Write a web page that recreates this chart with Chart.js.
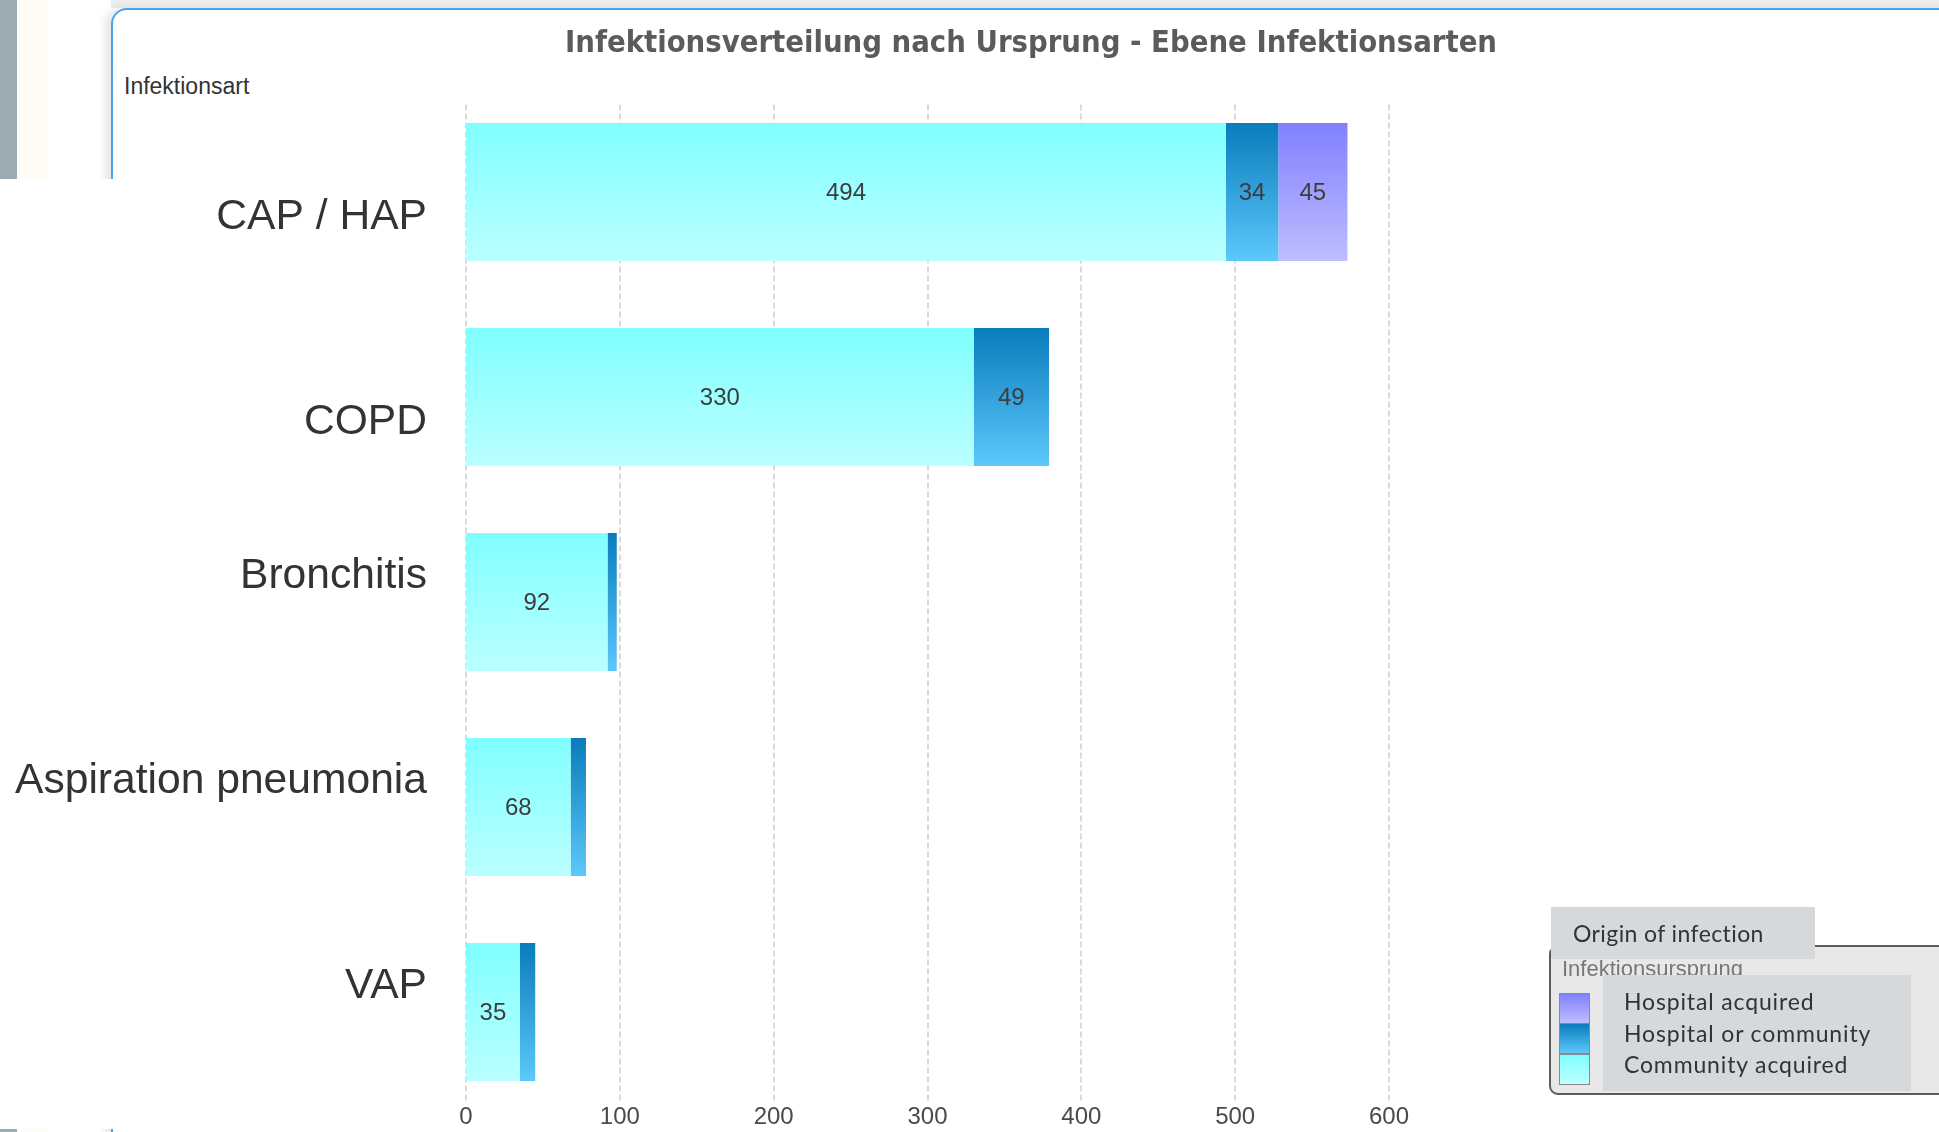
<!DOCTYPE html>
<html><head><meta charset="utf-8">
<script src="https://cdn.jsdelivr.net/npm/chart.js@4.4.1/dist/chart.umd.min.js"></script>
<style>
html,body{margin:0;padding:0;background:#fff;width:1939px;height:1132px;overflow:hidden;}
body{position:relative;}
.abs{position:absolute;}
#strip1{left:0;top:0;width:17px;height:179px;background:#9aabb4;}
#strip2{left:17px;top:0;width:31px;height:179px;background:#fffcf6;}
#bstrip1{left:0;top:1129px;width:17px;height:3px;background:#9aabb4;}
#bstrip2{left:17px;top:1129px;width:31px;height:3px;background:#fffcf6;}
#topband{left:111px;top:0;width:1828px;height:8px;background:#eeeeee;}
#frame{left:111px;top:8px;width:1900px;height:1300px;border-top:2px solid #4da3e8;border-left:2px solid #4da3e8;border-top-left-radius:16px;box-shadow:-6px 0 8px rgba(0,0,0,0.10);background:#fff;}
#cover{left:0;top:179px;width:300px;height:950px;background:#fff;}
#chartwrap{left:0;top:0;width:1939px;height:1132px;}
#subtitle{left:124px;top:74px;font:23px "Liberation Sans",Arial,sans-serif;color:#333;line-height:24px;white-space:nowrap;}
#lgframe{left:1549px;top:945px;width:420px;height:146px;border:2px solid #5c5c5c;border-radius:9px;background:#e8e8e8;}
#lgsub{left:1562px;top:958px;font:22px "Liberation Sans",Arial,sans-serif;color:#777;line-height:22px;white-space:nowrap;}
#lgtitle{left:1551px;top:907px;width:264px;height:52px;background:#d5d9dc;}
#lgtitle span{position:absolute;left:22px;top:11px;font:23px Lato,"Open Sans",sans-serif;color:#333;letter-spacing:0.4px;white-space:nowrap;line-height:30px;}
#lgitems{left:1603px;top:975px;width:308px;height:116px;background:#d5d9dc;}
.lgtxt{position:absolute;left:21px;font:23px Lato,"Open Sans",sans-serif;color:#333;letter-spacing:0.85px;line-height:31px;white-space:nowrap;}
.sw{position:absolute;left:1559px;width:29px;height:29px;border:1px solid #8a8a8a;}
</style>
</head><body>
<div class="abs" id="topband"></div>
<div class="abs" id="frame"></div>
<div class="abs" id="strip1"></div>
<div class="abs" id="strip2"></div>
<div class="abs" id="cover"></div>
<div class="abs" id="bstrip1"></div>
<div class="abs" id="bstrip2"></div>
<div class="abs" id="subtitle">Infektionsart</div>
<div class="abs" id="chartwrap"><canvas id="c" width="1939" height="1132"></canvas></div>
<div class="abs" id="lgframe"></div>
<div class="abs" id="lgsub">Infektionsursprung</div>
<div class="abs" id="lgtitle"><span>Origin of infection</span></div>
<div class="abs" id="lgitems"></div>
<div id="swatches"></div>
<script>
// ---- data ----
const categories = ['CAP / HAP', 'COPD', 'Bronchitis', 'Aspiration pneumonia', 'VAP'];
const communityAcquired = [494, 330, 92, 68, 35];
const hospitalOrCommunity = [34, 49, 6, 10, 10];
const hospitalAcquired = [45, 0, 0, 0, 0];
const seriesNames = ['Community acquired', 'Hospital or community', 'Hospital acquired'];
const xTicks = [0, 100, 200, 300, 400, 500, 600];
const chartTitle = 'Infektionsverteilung nach Ursprung - Ebene Infektionsarten';
const legendTitle = 'Origin of infection';

// ---- styles ----
const gradColors = [
  ['#80ffff', '#bbffff'],
  ['#0a7cbc', '#5cc8fb'],
  ['#8080ff', '#bebeff']
];
const BAR_FRACTION = 0.673;

function grad(i) {
  const [top, bottom] = gradColors[i];
  return (ctx) => {
    const chart = ctx.chart;
    const y = chart.scales && chart.scales.y;
    if (!chart.chartArea || !y || ctx.dataIndex === undefined) return top;
    const c = y.getPixelForValue(ctx.dataIndex);
    const band = Math.abs(y.getPixelForValue(1) - y.getPixelForValue(0));
    const h = band * BAR_FRACTION / 2;
    const g = chart.ctx.createLinearGradient(0, c - h, 0, c + h);
    g.addColorStop(0, top);
    g.addColorStop(1, bottom);
    return g;
  };
}

const seriesData = [communityAcquired, hospitalOrCommunity, hospitalAcquired];

const gridPlugin = {
  id: 'dashGrid',
  beforeDatasetsDraw(chart) {
    const {ctx, chartArea} = chart;
    const xs = chart.scales.x;
    ctx.save();
    ctx.strokeStyle = '#dadada';
    ctx.lineWidth = 2;
    ctx.setLineDash([6, 3]);
    xs.ticks.forEach(t => {
      const px = Math.round(xs.getPixelForValue(t.value));
      ctx.beginPath();
      ctx.moveTo(px, chartArea.top + 15);
      ctx.lineTo(px, chartArea.bottom - 11);
      ctx.stroke();
    });
    ctx.restore();
  }
};

const labelPlugin = {
  id: 'valueLabels',
  afterDatasetsDraw(chart) {
    const ctx = chart.ctx;
    ctx.save();
    ctx.font = '24px "Liberation Sans", Arial, sans-serif';
    ctx.fillStyle = '#3d3d3d';
    ctx.textAlign = 'center';
    ctx.textBaseline = 'middle';
    chart.data.datasets.forEach((ds, di) => {
      const meta = chart.getDatasetMeta(di);
      meta.data.forEach((el, i) => {
        const v = ds.data[i];
        if (v < 20) return;
        const p = el.getProps(['x', 'y', 'base'], true);
        ctx.fillText(String(v), (p.x + p.base) / 2, p.y + 1);
      });
    });
    ctx.restore();
  }
};

new Chart(document.getElementById('c'), {
  type: 'bar',
  data: {
    labels: categories,
    datasets: seriesData.map((d, i) => ({
      label: seriesNames[i],
      data: d,
      backgroundColor: grad(i),
      borderWidth: 0,
      categoryPercentage: BAR_FRACTION,
      barPercentage: 1
    }))
  },
  options: {
    indexAxis: 'y',
    responsive: false,
    animation: false,
    layout: {padding: {left: 0, right: -123, top: 0, bottom: 0}},
    plugins: {
      legend: {display: false},
      tooltip: {enabled: false},
      title: {
        display: true,
        text: chartTitle,
        color: '#5b5b5b',
        font: {family: '"DejaVu Sans Condensed", "DejaVu Sans"', weight: 'bold', size: 30.7, lineHeight: 1.2},
        padding: {top: 25.5, bottom: 27.2}
      }
    },
    scales: {
      x: {
        type: 'linear',
        stacked: true,
        min: 0,
        max: 600,
        afterBuildTicks: s => { s.ticks = xTicks.map(v => ({value: v})); },
        afterFit: s => { s.height = 17.5; },
        grid: {display: false, drawTicks: false},
        border: {display: false},
        ticks: {
          mirror: true,
          padding: -17.5,
          color: '#4a4a4a',
          font: {family: '"Liberation Sans", Arial, sans-serif', size: 24}
        }
      },
      y: {
        type: 'category',
        stacked: true,
        afterFit: s => { s.width = 466; s.paddingTop = 0; s.paddingBottom = 0; },
        grid: {display: false, drawTicks: false},
        border: {display: false},
        ticks: {
          padding: 39,
          color: '#333',
          font: {family: '"Liberation Sans", Arial, sans-serif', size: 42.6, lineHeight: 1.2},
          callback: (v, i) => i < 2 ? ['', categories[i]] : [categories[i], '']
        }
      },
      spacer: {
        type: 'linear',
        position: 'right',
        display: true,
        grid: {display: false, drawTicks: false},
        border: {display: false},
        ticks: {display: false},
        afterFit: s => { s.width = 673; s.paddingTop = 0; s.paddingBottom = 0; }
      }
    }
  },
  plugins: [gridPlugin, labelPlugin]
});

// ---- HTML legend built from the series ----
const items = document.getElementById('lgitems');
const sw = document.getElementById('swatches');
const order = [2, 1, 0];
const tops = [993, 1023, 1054];
order.forEach((si, k) => {
  const t = document.createElement('div');
  t.className = 'lgtxt';
  t.style.top = (11 + k * 31.5) + 'px';
  t.textContent = seriesNames[si];
  items.appendChild(t);
  const s = document.createElement('div');
  s.className = 'sw abs';
  s.style.top = tops[k] + 'px';
  s.style.background = `linear-gradient(${gradColors[si][0]}, ${gradColors[si][1]})`;
  sw.appendChild(s);
});
document.querySelector('#lgtitle span').textContent = legendTitle;
</script>
</body></html>
